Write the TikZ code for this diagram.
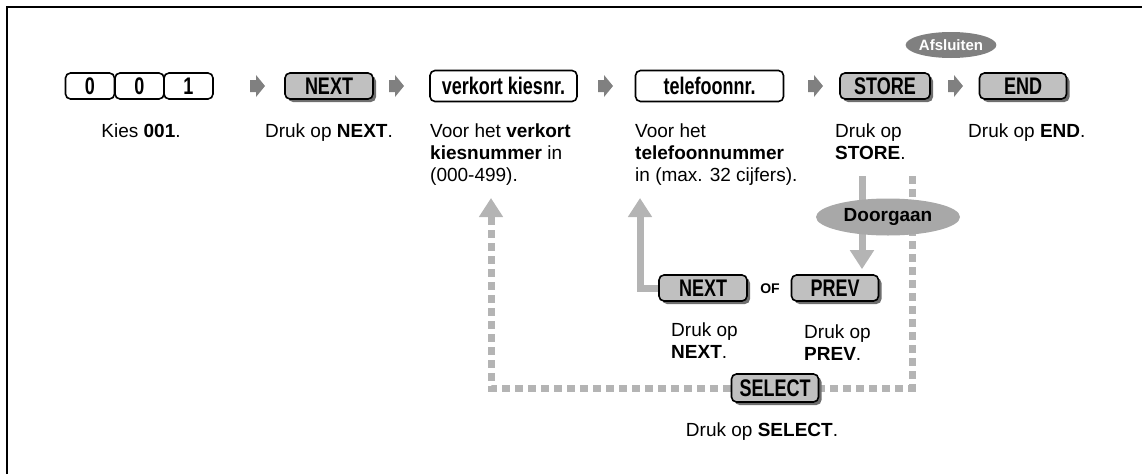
\documentclass[tikz,border=0pt]{standalone}
\usepackage{fontspec}
\setmainfont{Liberation Sans}
\newfontfamily\keyfont[FakeStretch=0.75]{Liberation Sans Bold}
\usetikzlibrary{arrows.meta,shapes.geometric,shadows,backgrounds}

\definecolor{keygray}{HTML}{C0C0C0}
\definecolor{shadegray}{HTML}{6E6E6E}
\definecolor{flowgray}{HTML}{B4B4B4}
\definecolor{stepgray}{HTML}{808080}
\definecolor{ovalgray}{HTML}{A8A8A8}

\tikzset{
	keybox/.style={draw=black, line width=1.6pt, rounded corners=5pt, fill=white,
			minimum height=26pt, inner sep=0pt, font=\keyfont\fontsize{24}{26}\selectfont},
	funckey/.style={keybox, fill=keygray,
			drop shadow={shadow xshift=3pt, shadow yshift=-3pt, fill=shadegray, opacity=1}},
	note/.style={anchor=north west, align=left, inner sep=0pt, font=\fontsize{19}{22}\selectfont},
	flowline/.style={draw=flowgray, line width=7pt, -{Triangle[width=23pt,length=19pt]}},
	loopline/.style={flowline, dash pattern=on 8pt off 5pt}
}

\begin{document}
\begin{tikzpicture}[x=1pt, y=-1pt]
			\useasboundingbox (0,0) rectangle (1142,474);

			% Frame
			\draw[line width=2pt] (7,474) -- (7,7) -- (1142,7);

			% Top row keys
			\foreach \d/\kx [count=\k] in {0/90,0/139.5,1/188.5} {
					\node[keybox, minimum width=49pt] (digit\k) at (\kx,86) {\d};
				}
			\node[funckey, minimum width=88pt] (keynext) at (329,86) {NEXT};
			\node[keybox, minimum width=147pt, minimum height=31pt] (keyspeed) at (503.5,86) {verkort kiesnr.};
			\node[keybox, minimum width=148pt, minimum height=31pt] (keytel) at (709.5,86) {telefoonnr.};
			\node[funckey, minimum width=90pt] (keystore) at (885,86) {STORE};
			\node[funckey, minimum width=87pt] (keyend) at (1023,86) {END};

			% Step arrows
			\foreach \ax in {257,396,605,815,955} {
					\fill[stepgray] (\ax-7,80) -- ++(6,0) -- ++(0,-5) -- ++(9,11) -- ++(-9,11) -- ++(0,-5) -- ++(-6,0) -- cycle;
				}

			% Exit oval
			\node[ellipse, fill=stepgray, text=white, minimum width=77pt, minimum height=26pt, inner sep=0pt,
				font=\bfseries\fontsize{15}{15}\selectfont] (quitoval) at (951,45) {Afsluiten};

			% Top row notes
			\node[note, anchor=north] (note001) at (141,124) {Kies \textbf{001}.};
			\node[note, anchor=north] (notenext) at (329,124) {Druk op \textbf{NEXT}.};
			\node[note] (notespeed) at (430,124) {Voor het \textbf{verkort}\\\textbf{kiesnummer} in\\(000-499).};
			\node[note] (notetel) at (635,124) {Voor het\\\textbf{telefoonnummer}\\in (max. 32 cijfers).};
			\node[note] (notestore) at (835,124) {Druk op\\\textbf{STORE}.};
			\node[note] (noteend) at (968,124) {Druk op \textbf{END}.};

			% Lower keys
			\node[funckey, minimum width=88pt] (keynextb) at (703,288) {NEXT};
			\node[font=\bfseries\fontsize{14}{14}\selectfont] (orword) at (770,289) {OF};
			\node[funckey, minimum width=87pt] (keyprev) at (835,288) {PREV};
			\node[funckey, minimum width=87pt, minimum height=28pt] (keyselect) at (775,388) {SELECT};

			% Lower notes
			\node[note] (notenextb) at (671,323) {Druk op\\\textbf{NEXT}.};
			\node[note] (noteprev) at (804,325) {Druk op\\\textbf{PREV}.};
			\node[note, anchor=north] (noteselect) at (762,423) {Druk op \textbf{SELECT}.};

			% Continue oval
			\node[ellipse, fill=ovalgray, minimum width=144pt, minimum height=37pt, inner sep=0pt,
				font=\bfseries\fontsize{19}{19}\selectfont] (contoval) at (888,217) {Doorgaan};

			% Connectors
			\coordinate (loopstart) at (912,176);
			\coordinate (loopend) at (491,198);
			\coordinate (contstart) at (862,176);
			\coordinate (telend) at (640,198);

			\begin{scope}[on background layer]
				\draw[loopline] (loopstart) |- (keyselect) -| (loopend);
				\draw[flowline, shorten >=5pt] (contstart) -- (contstart |- keyprev.north);
				\draw[flowline] (keynextb.west) -| (telend);
			\end{scope}

		\end{tikzpicture}
\end{document}
